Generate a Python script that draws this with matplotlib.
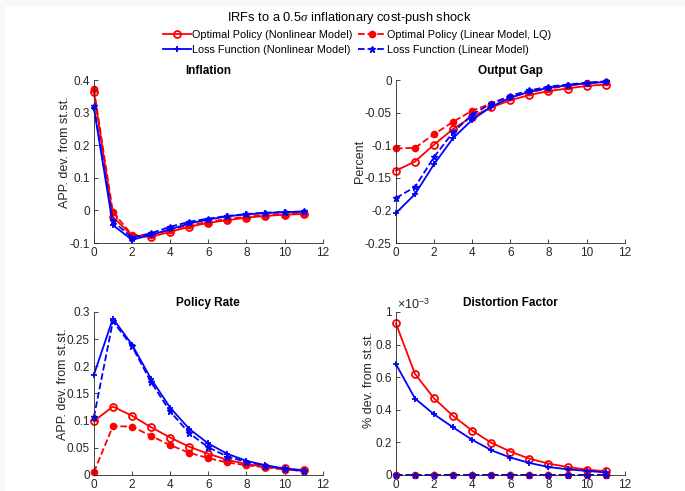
import numpy as np
import matplotlib
matplotlib.use("Agg")
import matplotlib.pyplot as plt
from matplotlib.patches import Rectangle

plt.rcParams["font.family"] = ["Liberation Sans", "DejaVu Sans"]
plt.rcParams["mathtext.fontset"] = "custom"
plt.rcParams["mathtext.rm"] = "Liberation Sans"
plt.rcParams["mathtext.it"] = "Liberation Serif:italic"

periods = np.arange(12)

# Inflation
infl_opt_nl = [0.364, -0.020, -0.077, -0.081, -0.066, -0.050, -0.038, -0.030, -0.022, -0.017, -0.013, -0.011]
infl_opt_lq = [0.372, -0.005, -0.075, -0.076, -0.060, -0.046, -0.035, -0.026, -0.019, -0.014, -0.010, -0.008]
infl_loss_nl = [0.315, -0.045, -0.090, -0.075, -0.058, -0.040, -0.028, -0.018, -0.012, -0.008, -0.005, -0.004]
infl_loss_lq = [0.320, -0.033, -0.083, -0.070, -0.050, -0.035, -0.025, -0.017, -0.011, -0.007, -0.005, -0.003]

# Output gap
gap_opt_nl = [-0.139, -0.125, -0.099, -0.075, -0.056, -0.042, -0.031, -0.023, -0.017, -0.013, -0.009, -0.007]
gap_opt_lq = [-0.105, -0.104, -0.083, -0.064, -0.047, -0.036, -0.026, -0.019, -0.013, -0.009, -0.005, -0.003]
gap_loss_nl = [-0.204, -0.175, -0.129, -0.089, -0.061, -0.041, -0.027, -0.018, -0.012, -0.008, -0.005, -0.003]
gap_loss_lq = [-0.181, -0.164, -0.118, -0.080, -0.053, -0.036, -0.024, -0.016, -0.010, -0.007, -0.004, -0.002]

# Policy rate
rate_opt_nl = [0.099, 0.126, 0.109, 0.088, 0.069, 0.052, 0.039, 0.028, 0.020, 0.015, 0.012, 0.009]
rate_opt_lq = [0.005, 0.090, 0.089, 0.072, 0.055, 0.041, 0.031, 0.023, 0.018, 0.014, 0.010, 0.008]
rate_loss_nl = [0.184, 0.288, 0.240, 0.177, 0.124, 0.085, 0.058, 0.039, 0.026, 0.018, 0.012, 0.008]
rate_loss_lq = [0.106, 0.283, 0.237, 0.171, 0.117, 0.077, 0.051, 0.034, 0.024, 0.017, 0.011, 0.007]

# Distortion factor (x 1e-3)
dist_opt_nl = [0.930, 0.620, 0.470, 0.362, 0.272, 0.198, 0.144, 0.100, 0.070, 0.049, 0.033, 0.023]
dist_opt_lq = [0.0] * 12
dist_loss_nl = [0.680, 0.469, 0.372, 0.292, 0.216, 0.152, 0.107, 0.074, 0.049, 0.035, 0.025, 0.016]
dist_loss_lq = [0.0] * 12

series_labels = [
    "Optimal Policy (Nonlinear Model)",
    "Optimal Policy (Linear Model, LQ)",
    "Loss Function (Nonlinear Model)",
    "Loss Function (Linear Model)",
]

# title, ylabel, series, ylim, yticks, scale, ylabel position (axes fraction)
panels = [
    ("Inflation", "APP. dev. from st.st.", (infl_opt_nl, infl_opt_lq, infl_loss_nl, infl_loss_lq),
     (-0.1, 0.4), np.arange(-0.1, 0.41, 0.1), 1.0, (-0.10, 0.56)),
    ("Output Gap", "Percent", (gap_opt_nl, gap_opt_lq, gap_loss_nl, gap_loss_lq),
     (-0.25, 0.0), np.arange(-0.25, 0.01, 0.05), 1.0, (-0.13, 0.5)),
    ("Policy Rate", "APP. dev. from st.st.", (rate_opt_nl, rate_opt_lq, rate_loss_nl, rate_loss_lq),
     (0.0, 0.3), np.arange(0, 0.31, 0.05), 1.0, (-0.11, 0.56)),
    ("Distortion Factor", "% dev. from st.st.", (dist_opt_nl, dist_opt_lq, dist_loss_nl, dist_loss_lq),
     (0.0, 1e-3), np.arange(0, 1.01e-3, 0.2e-3), 1e-3, (-0.09, 0.58)),
]

styles = [
    dict(color="#ff0000", ls="-", marker="o", ms=5, mfc="none", mew=1.3),
    dict(color="#ff0000", ls="--", marker=".", ms=9, mew=1.0),
    dict(color="#0000ff", ls="-", marker="+", ms=5, mew=1.3),
    dict(color="#0000ff", ls="--", marker="*", ms=5, mew=1.0),
]

fig = plt.figure(figsize=(6.85, 4.91), dpi=100, facecolor="#f8f8f8")
fig.patches.append(Rectangle((5 / 685, 0), 1, 1 - 6 / 491, transform=fig.transFigure,
                             facecolor="white", edgecolor="none", zorder=-1))

positions = [
    [0.137, 0.505, 0.334, 0.332],
    [0.578, 0.505, 0.334, 0.332],
    [0.137, 0.0326, 0.334, 0.332],
    [0.578, 0.0326, 0.334, 0.332],
]

tick_color = "#262626"
handles = []
for pos, (title, ylabel, data, ylim, yticks, scale, ylab_xy) in zip(positions, panels):
    ax = fig.add_axes(pos)
    for vals, st in zip(data, styles):
        h, = ax.plot(periods, np.asarray(vals) * scale, lw=1.3, clip_on=False, **st)
        if len(handles) < 4:
            handles.append(h)
    ax.set_xlim(0, 12)
    ax.set_ylim(*ylim)
    ax.set_xticks(np.arange(0, 13, 2))
    ax.set_yticks(yticks)
    ax.set_title(title, fontsize=8.5, fontweight="bold", pad=4)
    ax.set_ylabel(ylabel, fontsize=9.0, color=tick_color)
    ax.yaxis.set_label_coords(*ylab_xy)
    for side in ("top", "right"):
        ax.spines[side].set_visible(False)
    for side in ("left", "bottom"):
        ax.spines[side].set_color(tick_color)
        ax.spines[side].set_linewidth(0.6)
    ax.tick_params(direction="in", length=3, width=0.6, labelsize=8.5,
                   colors=tick_color, pad=3)
    ax.set_facecolor("white")
    if scale == 1e-3:
        ax.set_yticklabels(["0", "0.2", "0.4", "0.6", "0.8", "1"])
        ax.text(0.005, 1.0, "\u00d710$^{-3}$", transform=ax.transAxes, fontsize=9,
                color=tick_color, ha="left", va="bottom")
    else:
        ax.set_yticklabels([f"{v:g}" if abs(v) > 1e-9 else "0" for v in np.round(yticks, 3)])

fig.text(0.51, 0.964, r"IRFs to a 0.5$\sigma$ inflationary cost-push shock",
         ha="center", va="center", fontsize=9.3)
order = [0, 2, 1, 3]
fig.legend([handles[i] for i in order], [series_labels[i] for i in order],
           loc="center", bbox_to_anchor=(0.521, 0.914), ncol=2,
           fontsize=7.8, frameon=False, handlelength=2.6, handletextpad=0.1,
           columnspacing=0.5, labelspacing=0.45, borderpad=0)

fig.savefig("out.png", dpi=100, facecolor=fig.get_facecolor())
